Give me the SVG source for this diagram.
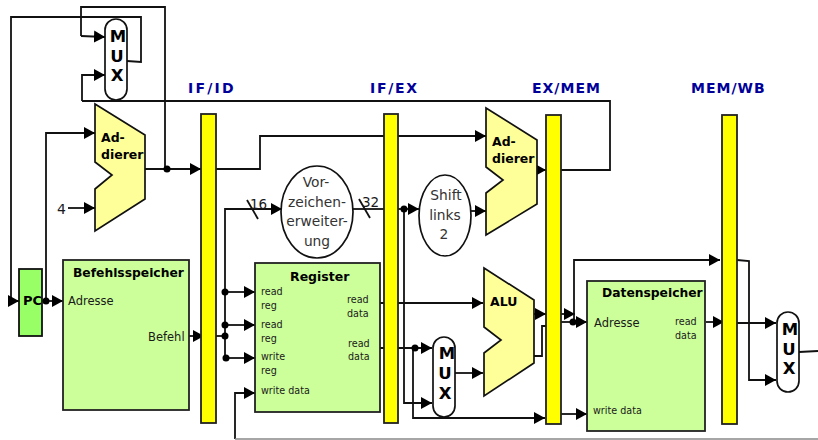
<svg xmlns="http://www.w3.org/2000/svg" width="818" height="440" viewBox="0 0 818 440">
<style>
text{font-family:"DejaVu Sans",Verdana,sans-serif;fill:#1a1a1a}
.w{fill:none;stroke:#111;stroke-width:1.8}
.a{marker-end:url(#ah)}
.d{fill:#000;stroke:none}
.bar{fill:#ff0;stroke:#222;stroke-width:1.8}
.box{fill:#ccff99;stroke:#222;stroke-width:1.8}
.add{fill:#ffff99;stroke:#111;stroke-width:1.7}
.mux{fill:#fff;stroke:#111;stroke-width:1.7}
.ell{fill:#fff;stroke:#111;stroke-width:1.7}
.b{font-weight:bold;fill:#000}
.t{font-weight:bold;font-size:14px;fill:#000099}
.s{font-size:9.6px}
.m{font-size:11.5px}
.l{font-size:13.8px;fill:#333;text-anchor:middle}
.mt{font-weight:bold;font-size:16.5px;fill:#000;text-anchor:middle}
</style>
<defs>
<marker id="ah" markerUnits="userSpaceOnUse" markerWidth="12" markerHeight="14" refX="11" refY="7" orient="auto">
<path d="M0,1L11,7L0,13Z" fill="#000"/>
</marker>
</defs>
<g id="connectors">
<path class="w" d="M81,36V7H165V168"/>
<path class="w a" d="M81,36L105,37"/>
<path class="w" d="M127,61L141,62V17H11V301"/>
<path class="w a" d="M8,301H19"/>
<path class="w a" d="M82,101V75H105"/>
<path class="w" d="M82,101H610V170H561"/>
<path class="w a" d="M46,300V133H95"/>
<path class="w a" d="M68,208H95"/>
<path class="w a" d="M145,169H201"/>
<path class="w a" d="M216,169H260V136H486"/>
<path class="w a" d="M42,301H63"/>
<path class="w a" d="M189,336H204"/>
<path class="w" d="M216,336H225"/>
<path class="w a" d="M225,358V209H282"/>
<path class="w" d="M247,200L258,219"/>
<path class="w" d="M353,209H384"/>
<path class="w" d="M359,199L370,218"/>
<path class="w a" d="M225,292H255"/>
<path class="w a" d="M225,325L255,325"/>
<path class="w a" d="M226,358H255"/>
<path class="w a" d="M235,439V393H255"/>
<path d="M235,439H818" fill="none" stroke="#888" stroke-width="1.5"/>
<path class="w a" d="M398,209H419"/>
<path class="w a" d="M404,209V403H432"/>
<path class="w a" d="M471,211H486"/>
<path class="w a" d="M380,303H483"/>
<path class="w a" d="M380,348H432"/>
<path class="w a" d="M413,348V418H545"/>
<path class="w a" d="M455,373H483"/>
<path class="w a" d="M534,314H546"/>
<path class="w" d="M534,356H542V326H546"/>
<path class="w a" d="M537,170H546"/>
<path class="w a" d="M561,314H575"/>
<path class="w a" d="M561,322H587"/>
<path class="w a" d="M574,322V260H720"/>
<path class="w a" d="M561,414H587"/>
<path class="w a" d="M706,322H724"/>
<path class="w a" d="M737,323H776"/>
<path class="w a" d="M737,260L749,261V380H776"/>
<path class="w" d="M799,352L818,351"/>
<circle class="d" cx="167" cy="169" r="3.500"/>
<circle class="d" cx="46" cy="301" r="3.500"/>
<circle class="d" cx="225" cy="292" r="3.500"/>
<circle class="d" cx="225" cy="325" r="3.500"/>
<circle class="d" cx="225" cy="336" r="3.500"/>
<circle class="d" cx="226" cy="358" r="3.500"/>
<circle class="d" cx="404" cy="209" r="3.500"/>
<circle class="d" cx="415" cy="348" r="3.500"/>
<circle class="d" cx="573" cy="322" r="3.500"/>
</g>
<g id="bar-if-id"><rect class="bar" x="201" y="114" width="15" height="309"/><text class="t" x="188" y="93" letter-spacing="2.200">IF/ID</text></g>
<g id="bar-if-ex"><rect class="bar" x="384" y="114" width="14" height="309"/><text class="t" x="370" y="93" letter-spacing="1.700">IF/EX</text></g>
<g id="bar-ex-mem"><rect class="bar" x="546" y="115" width="15" height="309"/><text class="t" x="532" y="93" letter-spacing="1">EX/MEM</text></g>
<g id="bar-mem-wb"><rect class="bar" x="722" y="115" width="15" height="309"/><text class="t" x="691" y="93" letter-spacing="1">MEM/WB</text></g>
<g id="mux1"><rect class="mux" x="105" y="19" width="22" height="81" rx="11"/><text class="mt" x="118" y="42">M</text><text class="mt" x="117" y="62">U</text><text class="mt" x="117" y="81">X</text></g>
<g id="adder1"><path class="add" d="M95,104L145,135V199L95,231V189L112,175L95,162Z"/><text class="b" font-size="12.500" x="101" y="142">Ad-</text><text class="b" font-size="12.500" x="101" y="159">dierer</text></g>
<g id="four"><text x="57" y="214" font-size="14">4</text></g>
<g id="pc"><rect x="19" y="269" width="23" height="67" fill="#99ff66" stroke="#111" stroke-width="1.800"/><text class="b" font-size="13" x="23" y="305">PC</text></g>
<g id="befehlsspeicher"><rect class="box" x="63" y="260" width="126" height="150"/><text class="b" font-size="12.300" x="73" y="277">Befehlsspeicher</text><text class="m" x="68" y="305">Adresse</text><text class="m" x="148" y="341">Befehl</text></g>
<g id="vorzeichen"><ellipse class="ell" cx="317" cy="212" rx="36" ry="46"/><text class="l" x="316" y="187">Vor-</text><text class="l" x="317" y="207">zeichen-</text><text class="l" x="317" y="226">erweiter-</text><text class="l" x="317" y="246">ung</text></g>
<text id="w16" x="250" y="209" font-size="13.500">16</text>
<text id="w32" x="362" y="207" font-size="13.500">32</text>
<g id="register"><rect class="box" x="255" y="263" width="125" height="149"/><text class="b" font-size="12.500" x="290" y="281">Register</text>
<text class="s" x="261" y="295">read</text><text class="s" x="261" y="309">reg</text>
<text class="s" x="261" y="328">read</text><text class="s" x="261" y="342">reg</text>
<text class="s" x="261" y="360">write</text><text class="s" x="261" y="374">reg</text>
<text class="s" x="261" y="394">write data</text>
<text class="s" x="347" y="303">read</text><text class="s" x="347" y="317">data</text>
<text class="s" x="348" y="347">read</text><text class="s" x="348" y="360">data</text></g>
<g id="shift"><ellipse class="ell" cx="445" cy="215.500" rx="26" ry="40.500"/><text class="l" x="446" y="200">Shift</text><text class="l" x="445" y="220">links</text><text class="l" x="444" y="239">2</text></g>
<g id="mux2"><rect class="mux" x="433" y="337" width="22" height="80" rx="11"/><text class="mt" x="447" y="359">M</text><text class="mt" x="445" y="379">U</text><text class="mt" x="445" y="399">X</text></g>
<g id="adder2"><path class="add" d="M486,108L537,140V204L486,235V193L503,180L486,167Z"/><text class="b" font-size="12.500" x="492" y="146">Ad-</text><text class="b" font-size="12.500" x="492" y="163">dierer</text></g>
<g id="alu"><path class="add" d="M484,268L534,300V363L484,396V353L501,340L484,327Z"/><text class="b" font-size="12.500" x="490" y="306">ALU</text></g>
<g id="datenspeicher"><rect class="box" x="587" y="281" width="118" height="150"/><text class="b" font-size="12.300" x="602" y="297">Datenspeicher</text><text class="m" x="594" y="327">Adresse</text><text class="s" x="675" y="325">read</text><text class="s" x="675" y="339">data</text><text class="s" x="593" y="414">write data</text></g>
<g id="mux3"><rect class="mux" x="777" y="312" width="22" height="80" rx="11"/><text class="mt" x="790" y="335">M</text><text class="mt" x="789" y="355">U</text><text class="mt" x="789" y="374">X</text></g>
</svg>
